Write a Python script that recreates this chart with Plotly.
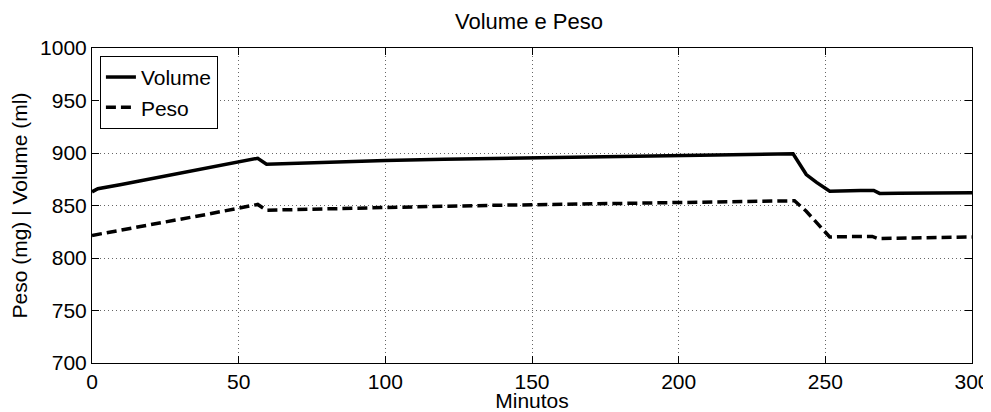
import plotly.graph_objects as go

# Volume (ml) over time (minutes)
vol_t = [0, 2, 10, 20, 30, 40, 50, 56.5, 59.5, 70, 80, 100, 120, 140, 160, 180, 200, 220,
         239, 243.5, 247, 251.5, 255, 262, 266.5, 268.5, 275, 285, 300]
vol_v = [863, 866, 870, 875.5, 880.5, 886, 891.5, 895, 889.3, 890.3, 891.2, 892.8, 894, 895,
         896, 897, 897.8, 898.5, 899.3, 879.5, 872, 863.5, 864, 864.3, 864.3, 861.5, 861.7, 862, 862.2]

# Peso (mg) over time (minutes)
peso_t = [0, 2, 10, 20, 30, 40, 50, 56.5, 59.5, 70, 80, 100, 120, 140, 160, 180, 200, 220,
          239.5, 243.5, 251.5, 255, 262, 266, 268, 275, 285, 300]
peso_v = [821.5, 822.5, 826.5, 831.5, 837, 842, 847.5, 851, 845.5, 846.3, 847, 848.2, 849.3,
          850.3, 851.3, 852.2, 853, 853.7, 854.5, 844.5, 820, 820.3, 820.8, 820.5, 818.5,
          818.8, 819.5, 820]

x_ticks = [0, 50, 100, 150, 200, 250, 300]
y_ticks = [700, 750, 800, 850, 900, 950, 1000]

FONT = "Liberation Sans, Arial, sans-serif"

fig = go.Figure()
fig.add_trace(go.Scatter(x=vol_t, y=vol_v, mode="lines", name="Volume",
                         line=dict(color="black", width=3.5)))
fig.add_trace(go.Scatter(x=peso_t, y=peso_v, mode="lines", name="Peso",
                         line=dict(color="black", width=3.5, dash="10px,5px")))

axis_common = dict(
    showline=True, linecolor="black", linewidth=1, mirror="ticks",
    ticks="inside", ticklen=7, tickcolor="black", tickwidth=1,
    showgrid=True, gridcolor="#666", gridwidth=1, griddash="1px,3px",
    zeroline=False, automargin=False,
    tickfont=dict(family=FONT, size=21, color="black"),
)

# the page body has an 8px margin, so the figure is sized 983x404
fig.update_layout(
    width=983, height=404,
    margin=dict(l=84, r=19, t=40, b=49, autoexpand=False),
    paper_bgcolor="white", plot_bgcolor="white",
    title=dict(text="Volume e Peso", x=0.530, xanchor="center", y=0.968, yanchor="middle",
               font=dict(family=FONT, size=22, color="black"),
               automargin=False),
    xaxis=dict(range=[0, 300], tickvals=x_ticks, ticktext=[str(v) for v in x_ticks],
               title=dict(text="Minutos", standoff=7, font=dict(family=FONT, size=21, color="black")),
               **axis_common),
    yaxis=dict(range=[700, 1000], tickvals=y_ticks, ticktext=[str(v) for v in y_ticks],
               title=dict(text="Peso (mg) | Volume (ml)", standoff=6,
                          font=dict(family=FONT, size=21, color="black")),
               **axis_common),
    legend=dict(x=0.009, y=0.975, xanchor="left", yanchor="top",
                bordercolor="black", borderwidth=1, bgcolor="white",
                font=dict(family=FONT, size=21, color="black"),
                tracegroupgap=0, itemwidth=30),
    showlegend=True,
)

fig.write_html("out.html")
